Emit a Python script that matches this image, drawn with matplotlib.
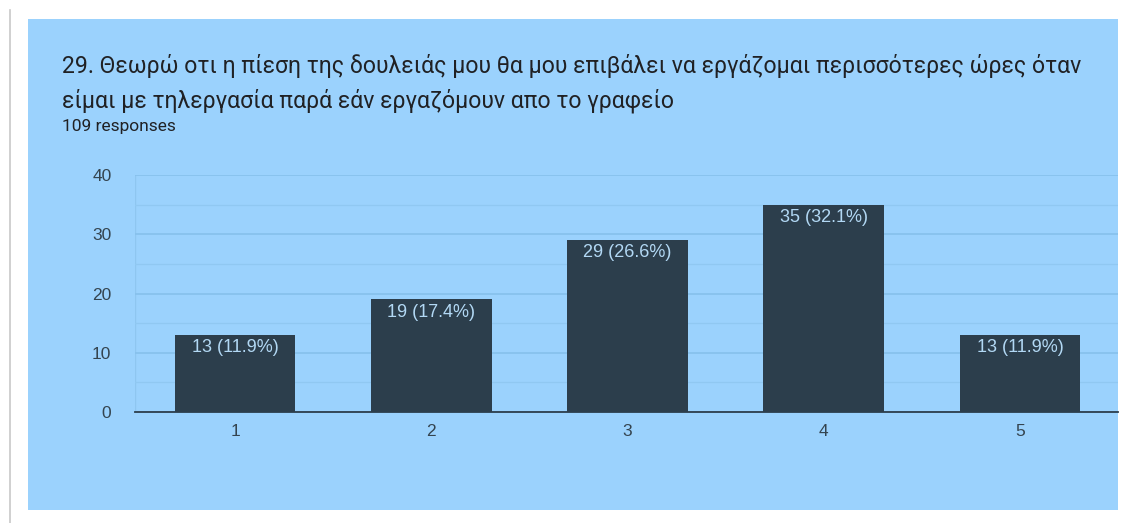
import matplotlib
matplotlib.use("Agg")
import matplotlib.pyplot as plt
from matplotlib.patches import Rectangle

plt.rcParams['font.family'] = ['Roboto', 'DejaVu Sans']

# data
categories = ["1", "2", "3", "4", "5"]
counts = [13, 19, 29, 35, 13]
percents = [11.9, 17.4, 26.6, 32.1, 11.9]
title_1 = "29. Θεωρώ οτι η πίεση της δουλειάς μου θα μου επιβάλει να εργάζομαι περισσότερες ώρες όταν"
title_2 = "είμαι με τηλεργασία παρά εάν εργαζόμουν απο το γραφείο"
subtitle = "109 responses"

W, H = 1123, 523
bg_blue = "#9bd2fd"
bar_col = "#2c3e4c"

fig = plt.figure(figsize=(W / 100, H / 100), dpi=100)
fig.patch.set_facecolor("white")

# panel + left grey rule
panel = Rectangle((28 / W, 1 - 510 / H), (1118 - 28) / W, (510 - 19) / H,
                  transform=fig.transFigure, facecolor=bg_blue, edgecolor="none", zorder=-5)
fig.add_artist(panel)
fig.add_artist(plt.Line2D([10 / W, 10 / W], [0, 1 - 10 / H], transform=fig.transFigure,
                          color="#c8c8c8", lw=1.2, zorder=-5))

fig.text(62 / W, 1 - 66 / H, title_1, fontsize=16.6, color="#202124", va="center")
fig.text(62 / W, 1 - 101 / H, title_2, fontsize=16.6, color="#202124", va="center")
fig.text(62 / W, 1 - 126 / H, subtitle, fontsize=12.5, color="#202124", va="center")

ax = fig.add_axes([135 / W, 111 / H, (1118 - 135) / W, (412 - 175) / H])
ax.set_zorder(2)
ax.set_facecolor(bg_blue)
x = list(range(len(categories)))
bars = ax.bar(x, counts, width=0.615, color=bar_col, zorder=3)

for b, c, p in zip(bars, counts, percents):
    ax.text(b.get_x() + b.get_width() / 2, c - 0.7, f"{c} ({p}%)", ha="center", va="top",
            fontsize=13, color="#b2d8f4", zorder=4, family=['Liberation Sans', 'DejaVu Sans'])

ax.set_xlim(-0.51, 4.5)
ax.set_ylim(0, 40)
ax.set_yticks([0, 10, 20, 30, 40])
ax.set_yticks([5, 15, 25, 35], minor=True)
ax.set_xticks(x)
ax.set_xticklabels(categories)
ax.grid(axis="y", which="major", color="#86c0ec", lw=1.2, zorder=1)
ax.grid(axis="y", which="minor", color="#90c8f2", lw=0.9, zorder=1)
ax.axvline(-0.51, color="#8ec6f0", lw=1, zorder=1)

for s in ["top", "right", "left"]:
    ax.spines[s].set_visible(False)
ax.spines["bottom"].set_color("#2c3e4c")
ax.spines["bottom"].set_linewidth(1.3)
ax.spines["bottom"].set_zorder(5)
ax.tick_params(axis="both", which="both", length=0, labelsize=12.5, labelcolor="#34444f")
ax.tick_params(axis="y", pad=17)
ax.tick_params(axis="x", pad=9)
for lab in ax.get_xticklabels() + ax.get_yticklabels():
    lab.set_family(['Liberation Sans', 'DejaVu Sans'])

fig.savefig("out.png", dpi=100, facecolor="white")
